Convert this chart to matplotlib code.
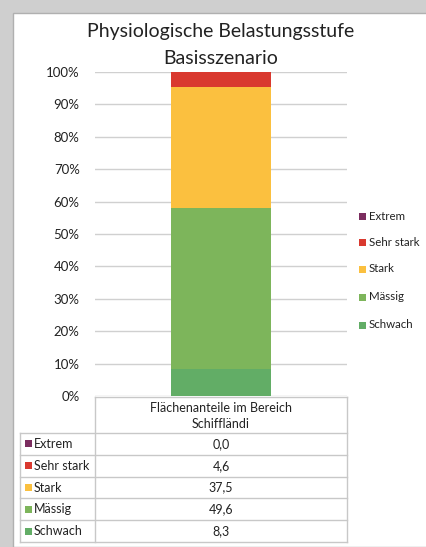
import numpy as np
import matplotlib
matplotlib.use("Agg")
import matplotlib.pyplot as plt
from matplotlib.patches import Rectangle
from matplotlib.lines import Line2D

plt.rcParams['font.family'] = ['Lato', 'DejaVu Sans']

categories = ['Extrem', 'Sehr stark', 'Stark', 'Mässig', 'Schwach']
values = [0.0, 4.6, 37.5, 49.6, 8.3]
colors = ['#7B2D5F', '#D9392F', '#FBC03F', '#7DB55B', '#62AD66']
value_labels = ['0,0', '4,6', '37,5', '49,6', '8,3']
yticks = np.arange(0, 101, 10)
col_header = 'Flächenanteile im Bereich\nSchiffländi'
title = 'Physiologische Belastungsstufe\nBasisszenario'

W, H = 427, 547
fig = plt.figure(figsize=(W / 100, H / 100), dpi=100)
fig.patch.set_facecolor('#cfcfcf')


def px(x, y):
    return x / W, 1 - y / H


# white panel with shadow frame
fig.add_artist(Rectangle(px(13, 547), (W - 13) / W, (547 - 13) / H,
                         transform=fig.transFigure, facecolor='white',
                         edgecolor='#b0b0b0', lw=1, zorder=0))

ax = fig.add_axes([95 / W, 1 - 396 / H, 252 / W, 324 / H])
ax.set_facecolor('none')
bottom = 0
for cat, v, c in reversed(list(zip(categories, values, colors))):
    ax.bar(0, v, bottom=bottom, width=0.5, color=c, zorder=2)
    bottom += v
ax.set_xlim(-0.625, 0.625)
ax.set_ylim(0, 100)
ax.set_yticks(yticks)
ax.set_yticklabels(['%d%%' % t for t in yticks], fontsize=9.5, color='#222222')
ax.set_xticks([])
ax.grid(axis='y', color='#d0d0d0', lw=1, zorder=0)
for s in ax.spines.values():
    s.set_visible(False)
ax.tick_params(axis='y', length=0, pad=11)

# title, two lines
for line, y in zip(title.split('\n'), [31, 58]):
    fig.text(221 / W, 1 - y / H, line, ha='center', va='center',
             fontsize=14, color='#222222')

# legend on the right
leg_y = [216, 242, 269, 297, 325]
for cat, c, y in zip(categories, colors, leg_y):
    fig.add_artist(Rectangle(px(359, y + 3.5), 7 / W, 7 / H,
                             transform=fig.transFigure, facecolor=c, lw=0))
    fig.text(369 / W, 1 - y / H, cat, ha='left', va='center',
             fontsize=8.3, color='#222222')

# data table below
lc = '#c8c8c8'


def hline(x0, x1, y):
    fig.add_artist(Line2D([x0 / W, x1 / W], [1 - y / H, 1 - y / H],
                          transform=fig.transFigure, color=lc, lw=1))


def vline(x, y0, y1):
    fig.add_artist(Line2D([x / W, x / W], [1 - y0 / H, 1 - y1 / H],
                          transform=fig.transFigure, color=lc, lw=1))


row_top = 433
row_h = 21.8
hline(95, 347, 397)
vline(95, 397, 542)
vline(347, 397, 542)
vline(20, row_top, 542)
for i in range(len(categories) + 1):
    hline(20, 347, row_top + i * row_h)

fig.text(221 / W, 1 - 416 / H, col_header, ha='center', va='center',
         fontsize=9, color='#222222', linespacing=1.35)
for i, (cat, c, lab) in enumerate(zip(categories, colors, value_labels)):
    yc = row_top + (i + 0.5) * row_h
    fig.add_artist(Rectangle(px(25, yc + 3.5), 7 / W, 7 / H,
                             transform=fig.transFigure, facecolor=c, lw=0))
    fig.text(34 / W, 1 - yc / H, cat, ha='left', va='center',
             fontsize=9, color='#222222')
    fig.text(221 / W, 1 - yc / H, lab, ha='center', va='center',
             fontsize=9, color='#222222')

fig.savefig('out.png', dpi=100)
